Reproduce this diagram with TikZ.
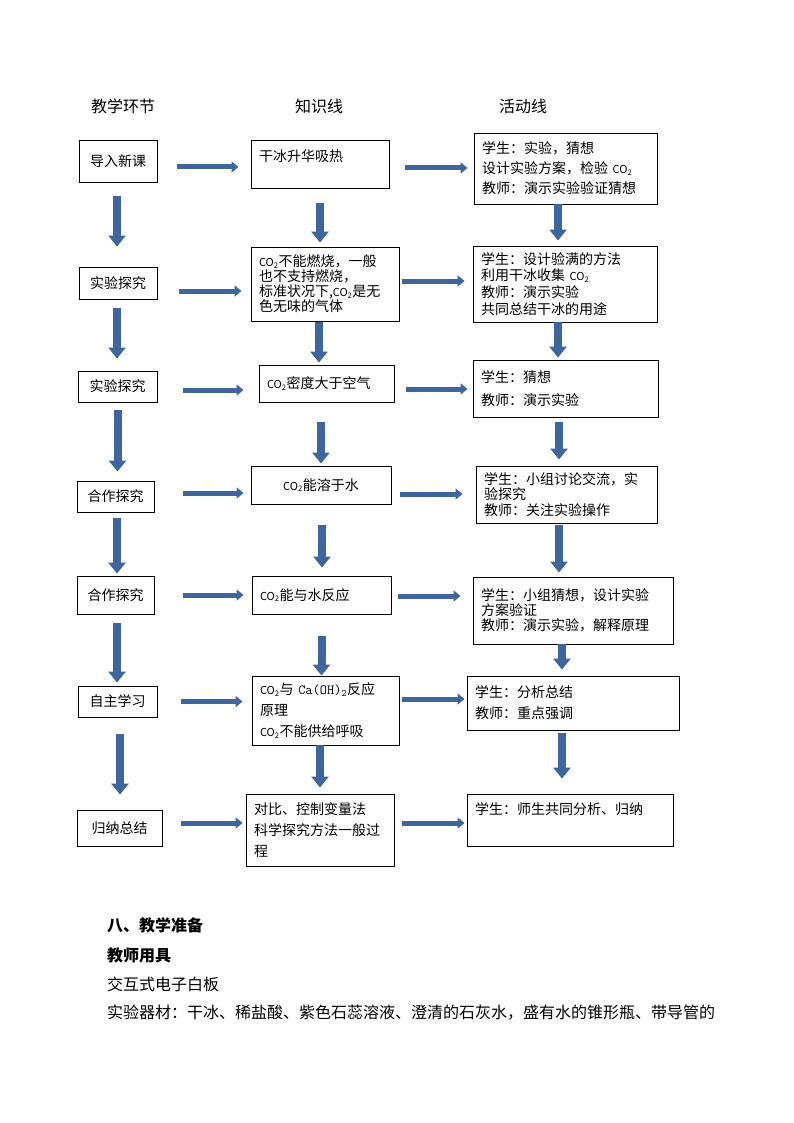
\documentclass[tikz,border=0pt]{standalone}
\usepackage{fontspec}
\setmainfont{Noto Sans CJK SC}
\usetikzlibrary{arrows.meta}
\definecolor{arrblue}{RGB}{62,102,156}
\newcommand\COtwo{{\fontsize{11}{13}\selectfont CO\textsubscript{2}}}
\tikzset{
	box/.style={draw, line width=0.9pt, inner xsep=8pt, inner ysep=2pt, font=\fontsize{14}{21}\selectfont},
	lbox/.style={box, align=left},
	harr/.style={arrblue, line width=5pt, -{Triangle[width=11pt,length=7pt]}},
	varr/.style={arrblue, line width=8pt, -{Triangle[width=17pt,length=11pt]}},
	head/.style={font=\fontsize{16}{18}\selectfont},
	para/.style={anchor=west, inner sep=0pt, font=\fontsize{16}{18}\selectfont}
}
\begin{document}
\begin{tikzpicture}[x=1pt,y=-1pt]
	\useasboundingbox (0,0) rectangle (794,1123);
	
	\node[head] (h1) at (123,106){教学环节};
	\node[head] (h2) at (319,106){知识线};
	\node[head] (h3) at (523,106){活动线};
	
	% teaching steps
	\node[box, minimum width=78pt, minimum height=42pt] (b1) at (118,161){导入新课};
	\node[box, minimum width=78pt, minimum height=32pt] (b2) at (118,283){实验探究};
	\node[box, minimum width=79pt, minimum height=31pt] (b3) at (117.5,386.5){实验探究};
	\node[box, minimum width=77pt, minimum height=31pt] (b4) at (115.5,496.5){合作探究};
	\node[box, minimum width=77pt, minimum height=38pt] (b5) at (115.5,595){合作探究};
	\node[box, minimum width=79pt, minimum height=31pt] (b6) at (117.5,701.5){自主学习};
	\node[box, minimum width=85pt, minimum height=36pt] (b7) at (119.5,828){归纳总结};
	
	% knowledge line
	\node[lbox, text width=122pt, minimum height=48pt, text depth=17pt] (k1) at (320,164){干冰升华吸热};
	\node[lbox, text width=132pt, minimum height=74pt, font=\fontsize{14}{15}\selectfont] (k2) at (325,284){\COtwo 不能燃烧，一般\\也不支持燃烧，\\标准状况下,\COtwo 是无\\色无味的气体};
	\node[lbox, text width=119pt, minimum height=37pt] (k3) at (326.5,383.5){\COtwo 密度大于空气};
	\node[box, align=center, text width=124pt, minimum height=38pt] (k4) at (321,485){\COtwo 能溶于水};
	\node[lbox, text width=123pt, minimum height=38pt] (k5) at (321.5,595){\COtwo 能与水反应};
	\node[lbox, text width=131pt, minimum height=69pt] (k6) at (325.5,710.5){\COtwo 与 {\ttfamily Ca(OH)\textsubscript{2}}反应\\原理\\\COtwo 不能供给呼吸};
	\node[lbox, text width=132pt, minimum height=72pt] (k7) at (320,830){对比、控制变量法\\科学探究方法一般过\\程};
	
	% activity line
	\node[lbox, text width=167pt, minimum height=71pt, font=\fontsize{14}{20}\selectfont] (c1) at (565.5,168.5){学生：实验，猜想\\设计实验方案，检验 \COtwo\\教师：演示实验验证猜想};
	\node[lbox, text width=168pt, minimum height=76pt, font=\fontsize{14}{16.7}\selectfont] (c2) at (565,284){学生：设计验满的方法\\利用干冰收集 \COtwo\\教师：演示实验\\共同总结干冰的用途};
	\node[lbox, text width=169pt, minimum height=57pt, font=\fontsize{14}{23}\selectfont] (c3) at (565.5,388.5){学生：猜想\\教师：演示实验};
	\node[lbox, text width=165pt, minimum height=57pt, font=\fontsize{14}{15.5}\selectfont] (c4) at (566.5,494.5){学生：小组讨论交流，实\\验探究\\教师：关注实验操作};
	\node[lbox, text width=184pt, minimum height=67pt, font=\fontsize{14}{15}\selectfont] (c5) at (573,610.5){学生：小组猜想，设计实验\\方案验证\\教师：演示实验，解释原理};
	\node[lbox, text width=196pt, minimum height=54pt] (c6) at (573,703){学生：分析总结\\教师：重点强调};
	\node[lbox, text width=190pt, minimum height=52pt, text depth=23pt] (c7) at (570,820){学生：师生共同分析、归纳};
	
	\draw[varr, shorten <=14pt, shorten >=20pt] ([xshift=-1pt]b1.south) -- ([xshift=-1pt]b1.south |- b2.north);
	\draw[varr, shorten <=9pt, shorten >=12pt] ([xshift=-1pt]b2.south) -- ([xshift=-1pt]b2.south |- b3.north);
	\draw[varr, shorten <=8pt, shorten >=9pt] (b3.south) -- (b3.south |- b4.north);
	\draw[varr, shorten <=6pt, shorten >=2pt] ([xshift=1.5pt]b4.south) -- ([xshift=1.5pt]b4.south |- b5.north);
	\draw[varr, shorten <=9pt, shorten >=3pt] ([xshift=1.5pt]b5.south) -- ([xshift=1.5pt]b5.south |- b6.north);
	\draw[varr, shorten <=17pt, shorten >=15pt] ([xshift=2.5pt]b6.south) -- ([xshift=2.5pt]b6.south |- b7.north);
	
	\draw[varr, shorten <=15pt, shorten >=4pt] (k1.south) -- (k1.south |- k2.north);
	\draw[varr, shorten <=1pt, shorten >=2pt] ([xshift=-6pt]k2.south) -- ([xshift=-6pt]k2.south |- k3.north);
	\draw[varr, shorten <=20pt, shorten >=2pt] (k4.north |- k3.south) -- (k4.north);
	\draw[varr, shorten <=21pt, shorten >=8pt] ([xshift=1pt]k4.south) -- ([xshift=1pt]k4.south |- k5.north);
	\draw[varr, shorten <=22pt] (k5.south) -- (k5.south |- k6.north);
	\draw[varr, shorten >=6pt] (k7.north |- k6.south) -- (k7.north);
	
	\draw[varr, shorten >=5pt] ([xshift=-7.5pt]c1.south) -- ([xshift=-7.5pt]c1.south |- c2.north);
	\draw[varr, shorten >=2pt] ([xshift=-7pt]c2.south) -- ([xshift=-7pt]c2.south |- c3.north);
	\draw[varr, shorten <=5pt, shorten >=6pt] ([xshift=-6.5pt]c3.south) -- ([xshift=-6.5pt]c3.south |- c4.north);
	\draw[varr, shorten <=2pt, shorten >=4pt] ([xshift=-7.5pt]c4.south) -- ([xshift=-7.5pt]c4.south |- c5.north);
	\draw[varr, shorten >=6pt] ([xshift=-11pt]c5.south) -- ([xshift=-11pt]c5.south |- c6.north);
	\draw[varr, shorten <=3pt, shorten >=15pt] ([xshift=-11pt]c6.south) -- ([xshift=-11pt]c6.south |- c7.north);
	
	\draw[harr, shorten <=20pt, shorten >=12pt] ([yshift=-6pt]b1.east) -- ([yshift=-6pt]b1.east -| k1.west);
	\draw[harr, shorten <=22pt, shorten >=9pt] ([yshift=-8pt]b2.east) -- ([yshift=-8pt]b2.east -| k2.west);
	\draw[harr, shorten <=26pt, shorten >=15pt] ([yshift=-3.5pt]b3.east) -- ([yshift=-3.5pt]b3.east -| k3.west);
	\draw[harr, shorten <=29pt, shorten >=7pt] ([yshift=3.5pt]b4.east) -- ([yshift=3.5pt]b4.east -| k4.west);
	\draw[harr, shorten <=29pt, shorten >=8pt] (b5.east) -- (b5.east -| k5.west);
	\draw[harr, shorten <=24pt, shorten >=9pt] (b6.east) -- (b6.east -| k6.west);
	\draw[harr, shorten <=19pt, shorten >=3pt] ([yshift=5pt]b7.east) -- ([yshift=5pt]b7.east -| k7.west);
	
	\draw[harr, shorten <=16pt, shorten >=6pt] ([yshift=-4pt]k1.east) -- ([yshift=-4pt]k1.east -| c1.west);
	\draw[harr, shorten <=3pt, shorten >=8pt] ([yshift=3pt]k2.east) -- ([yshift=3pt]k2.east -| c2.west);
	\draw[harr, shorten <=12pt, shorten >=5pt] ([yshift=-5.5pt]k3.east) -- ([yshift=-5.5pt]k3.east -| c3.west);
	\draw[harr, shorten <=9pt, shorten >=13pt] ([yshift=-9pt]k4.east) -- ([yshift=-9pt]k4.east -| c4.west);
	\draw[harr, shorten <=7pt, shorten >=12pt] ([yshift=-1pt]k5.east) -- ([yshift=-1pt]k5.east -| c5.west);
	\draw[harr, shorten <=3pt, shorten >=2pt] ([yshift=11.5pt]k6.east) -- ([yshift=11.5pt]k6.east -| c6.west);
	\draw[harr, shorten <=8pt, shorten >=2pt] ([yshift=7pt]k7.east) -- ([yshift=7pt]k7.east -| c7.west);
	
	\node[para, font=\fontsize{16}{18}\selectfont\bfseries] (p1) at (107,925){八、教学准备};
	\node[para, font=\fontsize{16}{18}\selectfont\bfseries] (p2) at (107,955){教师用具};
	\node[para] (p3) at (107,984){交互式电子白板};
	\node[para] (p4) at (107,1013){实验器材：干冰、稀盐酸、紫色石蕊溶液、澄清的石灰水，盛有水的锥形瓶、带导管的};
\end{tikzpicture}
\end{document}
